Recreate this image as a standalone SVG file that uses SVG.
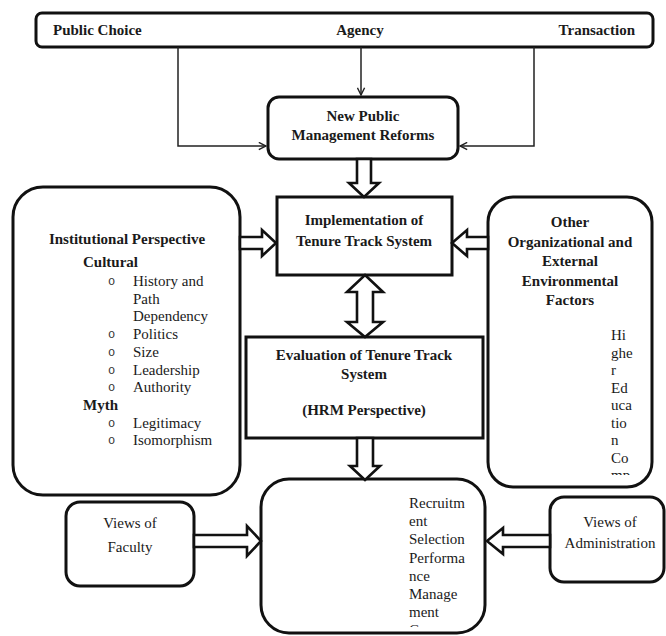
<svg xmlns="http://www.w3.org/2000/svg" width="666" height="636" viewBox="0 0 666 636">
<defs>
<style>
.box{fill:#fff;stroke:#111;stroke-width:3}
.t{font-family:"Liberation Serif","Times New Roman",serif;font-size:15px;fill:#1a1a1a}
.b{font-weight:bold}
.c{text-anchor:middle}
.line{fill:none;stroke:#222;stroke-width:1.5}
.blk{fill:#fff;stroke:#111;stroke-width:2.6;stroke-linejoin:miter}
.bul{font-family:"Liberation Mono","Courier New",monospace;font-size:12px;fill:#333}
</style>
<marker id="open" viewBox="0 0 10 10" refX="9" refY="5" markerWidth="9" markerHeight="9" markerUnits="userSpaceOnUse" orient="auto">
<path d="M1,1 L9,5 L1,9" fill="none" stroke="#222" stroke-width="1.6"/>
</marker>
<clipPath id="clipR"><rect x="480" y="190" width="180" height="285"/></clipPath>
<clipPath id="clipB"><rect x="255" y="470" width="240" height="157"/></clipPath>
</defs>
<rect width="666" height="636" fill="#fff"/>

<g id="theories">
<rect class="box" x="36" y="13" width="617" height="34" rx="6"/>
<text class="t b" x="53" y="35">Public Choice</text>
<text class="t b c" x="360" y="35">Agency</text>
<text class="t b" x="635" y="35" text-anchor="end">Transaction</text>
</g>

<g id="npm">
<rect class="box" x="268" y="97" width="190" height="62" rx="11"/>
<text class="t b c" x="363" y="121">New Public</text>
<text class="t b c" x="363" y="140">Management Reforms</text>
</g>

<g id="implementation">
<rect class="box" x="277" y="197" width="175" height="78"/>
<text class="t b c" x="364" y="225">Implementation of</text>
<text class="t b c" x="364" y="246">Tenure Track System</text>
</g>

<g id="institutional">
<rect class="box" x="13" y="187" width="227" height="308" rx="30"/>
<text class="t b c" x="127" y="244">Institutional Perspective</text>
<text class="t b" x="83" y="267">Cultural</text>
<text class="bul" x="108" y="285">o</text><text class="t" x="133" y="286">History and</text>
<text class="t" x="133" y="303.7">Path</text>
<text class="t" x="133" y="321.4">Dependency</text>
<text class="bul" x="108" y="338">o</text><text class="t" x="133" y="339.1">Politics</text>
<text class="bul" x="108" y="356">o</text><text class="t" x="133" y="356.8">Size</text>
<text class="bul" x="108" y="373.5">o</text><text class="t" x="133" y="374.5">Leadership</text>
<text class="bul" x="108" y="391">o</text><text class="t" x="133" y="392.2">Authority</text>
<text class="t b" x="83" y="409.9">Myth</text>
<text class="bul" x="108" y="426.6">o</text><text class="t" x="133" y="427.6">Legitimacy</text>
<text class="bul" x="108" y="444.3">o</text><text class="t" x="133" y="445.3">Isomorphism</text>
</g>

<g id="other-factors">
<rect class="box" x="488" y="197" width="164" height="290" rx="25"/>
<text class="t b c" x="570" y="227">Other</text>
<text class="t b c" x="570" y="246.5">Organizational and</text>
<text class="t b c" x="570" y="266">External</text>
<text class="t b c" x="570" y="285.5">Environmental</text>
<text class="t b c" x="570" y="305">Factors</text>
<g clip-path="url(#clipR)">
<text class="t" x="611" y="340">Hi</text>
<text class="t" x="611" y="357.5">ghe</text>
<text class="t" x="611" y="375">r</text>
<text class="t" x="611" y="392.5">Ed</text>
<text class="t" x="611" y="410">uca</text>
<text class="t" x="611" y="427.5">tio</text>
<text class="t" x="611" y="445">n</text>
<text class="t" x="611" y="462.5">Co</text>
<text class="t" x="611" y="480">mp</text>
</g>
</g>

<g id="evaluation">
<rect class="box" x="246" y="337" width="237" height="101"/>
<text class="t b c" x="364" y="360">Evaluation of Tenure Track</text>
<text class="t b c" x="364" y="379">System</text>
<text class="t b c" x="364" y="415">(HRM Perspective)</text>
</g>

<g id="hrm-functions">
<rect class="box" x="261" y="479" width="224" height="154" rx="28"/>
<g clip-path="url(#clipB)">
<text class="t" x="409" y="508">Recruitm</text>
<text class="t" x="409" y="526.2">ent</text>
<text class="t" x="409" y="544.4">Selection</text>
<text class="t" x="409" y="562.6">Performa</text>
<text class="t" x="409" y="580.8">nce</text>
<text class="t" x="409" y="599">Manage</text>
<text class="t" x="409" y="617.2">ment</text>
<text class="t" x="409" y="635.4">C</text>
</g>
</g>

<g id="faculty">
<rect class="box" x="66" y="502" width="128" height="84" rx="14"/>
<text class="t c" x="130" y="528">Views of</text>
<text class="t c" x="130" y="552">Faculty</text>
</g>

<g id="administration">
<rect class="box" x="550" y="497" width="114" height="85" rx="14"/>
<text class="t c" x="610" y="527">Views of</text>
<text class="t c" x="610" y="548">Administration</text>
</g>

<g id="connectors">
<path class="line" d="M178,47 V146 H266" marker-end="url(#open)"/>
<path class="line" d="M534,47 V146 H460" marker-end="url(#open)"/>
<path class="line" d="M361,47 V95" marker-end="url(#open)"/>
<polygon class="blk" points="357,159 371,159 371,183 379,183 364,197 349,183 357,183"/>
<polygon class="blk" points="365,275 383,292 373,292 373,322 383,322 365,337 347,322 357,322 357,292 347,292"/>
<polygon class="blk" points="357,438 373,438 373,466 380,466 365,480 350,466 357,466"/>
<polygon class="blk" points="240,237 262,237 262,230 276,243 262,256 262,249 240,249"/>
<polygon class="blk" points="488,237 467,237 467,230 452,243 467,256 467,249 488,249"/>
<polygon class="blk" points="194,535 247,535 247,526 261,541 247,556 247,547 194,547"/>
<polygon class="blk" points="550,535 503,535 503,528 487,541 503,554 503,547 550,547"/>
</g>
</svg>
